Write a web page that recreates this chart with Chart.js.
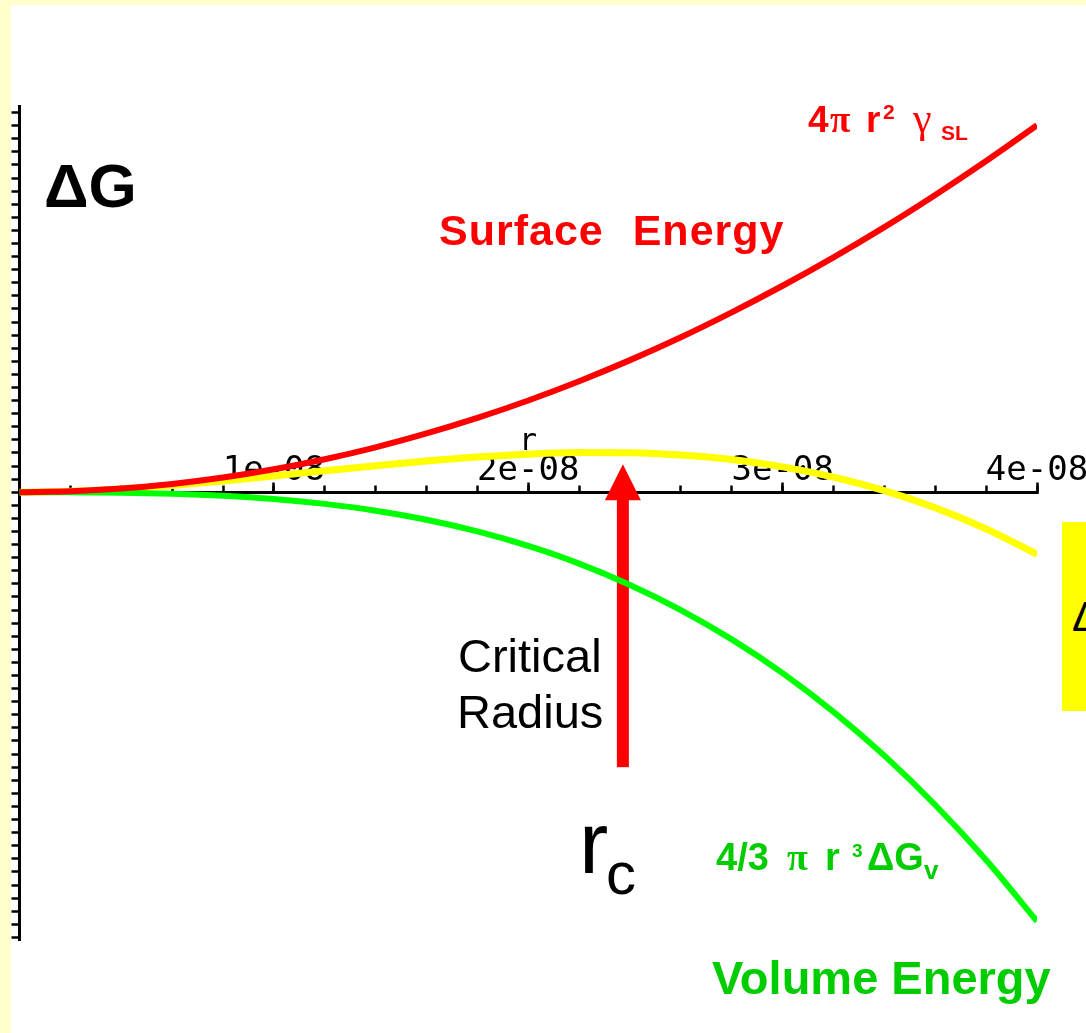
<!DOCTYPE html>
<html><head><meta charset="utf-8">
<script src="https://cdn.jsdelivr.net/npm/chart.js@4"></script>
<style>
html,body{margin:0;padding:0;}
body{width:1086px;height:1033px;position:relative;overflow:hidden;background:#ffffcc;font-family:"Liberation Sans",Arial,sans-serif;}
#paper{position:absolute;left:11px;top:5px;right:0;bottom:0;background:#fff;}
#c{position:absolute;left:0;top:0;}
.t{position:absolute;white-space:nowrap;line-height:1;}
.b{font-weight:bold;}
.s{font-family:"Liberation Serif","Times New Roman",serif;}
.red{color:#ff0000;}
.grn{color:#00cc00;}
</style></head>
<body>
<div id="paper"></div>
<div style="position:absolute;left:1062px;top:522px;width:40px;height:189px;background:#ffff00;overflow:hidden;">
  <div class="t" style="left:10px;top:72.6px;font-size:43px;color:#000;">ΔG</div>
</div>
<canvas id="c" width="1086" height="1033"></canvas>

<div class="t b" style="left:44px;top:154.5px;font-size:62px;color:#000;">ΔG</div>
<div class="t b red" style="left:439px;top:208.6px;font-size:43px;letter-spacing:1px;word-spacing:16px;">Surface Energy</div>

<div class="t b red" style="left:808px;top:100.7px;font-size:37px;">4</div>
<div class="t b s red" style="left:830px;top:101px;font-size:37px;">π</div>
<div class="t b red" style="left:866px;top:100.7px;font-size:37px;">r</div>
<div class="t b red" style="left:883px;top:101.2px;font-size:21px;">2</div>
<div class="t s red" style="left:913px;top:96.8px;font-size:42px;">γ</div>
<div class="t b red" style="left:941px;top:122.2px;font-size:21px;">SL</div>

<div class="t" style="left:458px;top:632.2px;font-size:47px;color:#000;">Critical</div>
<div class="t" style="left:457px;top:688.2px;font-size:47px;color:#000;">Radius</div>

<div class="t" style="left:579px;top:798.5px;font-size:88px;color:#000;">r</div>
<div class="t" style="left:606px;top:844.2px;font-size:60px;color:#000;">c</div>

<div class="t b grn" style="left:716px;top:837.8px;font-size:38px;">4/3</div>
<div class="t b s grn" style="left:787px;top:838.2px;font-size:38px;">π</div>
<div class="t b grn" style="left:825px;top:837.8px;font-size:38px;">r</div>
<div class="t b grn" style="left:852px;top:840.9px;font-size:19px;">3</div>
<div class="t b grn" style="left:867px;top:837.8px;font-size:38px;">ΔG</div>
<div class="t b grn" style="left:924px;top:857px;font-size:26px;">v</div>

<div class="t b grn" style="left:712px;top:954.2px;font-size:47px;">Volume Energy</div>

<div class="t" style="left:519px;top:424.6px;font-size:30px;font-family:'DejaVu Sans Mono',monospace;color:#000;">r</div>

<script>
// radius r (m)
const radius = [0, 0.2e-8, 0.4e-8, 0.6e-8, 0.8e-8, 1.0e-8, 1.2e-8, 1.4e-8, 1.6e-8, 1.8e-8, 2.0e-8,
                2.2e-8, 2.4e-8, 2.6e-8, 2.8e-8, 3.0e-8, 3.2e-8, 3.4e-8, 3.6e-8, 3.8e-8, 4.0e-8];
// surface energy term 4πr²γSL (arbitrary units)
const surfaceEnergy = [0, 0.7, 2.8, 6.3, 11.2, 17.5, 25.2, 34.3, 44.9, 56.8, 70.1,
                       84.8, 100.9, 118.4, 137.4, 157.7, 179.4, 202.5, 227.1, 253.0, 280.3];
// volume energy term 4/3πr³ΔGv (arbitrary units)
const volumeEnergy = [0, -0.04, -0.3, -1.1, -2.6, -5.1, -8.9, -14.1, -21.0, -29.9, -41.0,
                      -54.5, -70.8, -90.0, -112.4, -138.2, -167.8, -201.2, -238.9, -280.9, -327.7];
// total ΔG
const totalEnergy = [0, 0.66, 2.5, 5.2, 8.6, 12.4, 16.4, 20.3, 23.9, 26.9, 29.1,
                     30.3, 30.1, 28.4, 25.0, 19.4, 11.6, 1.3, -11.8, -28.0, -47.4];
// x-axis tick labels
const xTickValues = [1e-8, 2e-8, 3e-8, 4e-8];
const xTickLabels = ['1e-08', '2e-08', '3e-08', '4e-08'];
// critical radius arrow (r, tip, head base, tail in y units)
const criticalRadius = 2.372e-8;
const arrowTip = 21.4, arrowHeadBase = -6.1, arrowTail = -210;

const pts = arr => radius.map((r, i) => ({x: r, y: arr[i]}));

const arrowPlugin = {
  id: 'rcArrow',
  beforeDatasetsDraw(chart) {
    const {ctx, scales: {x, y}} = chart;
    const px = x.getPixelForValue(criticalRadius);
    const yTip = y.getPixelForValue(arrowTip);
    const yBase = y.getPixelForValue(arrowHeadBase);
    const yTail = y.getPixelForValue(arrowTail);
    ctx.save();
    ctx.fillStyle = '#ff0000';
    ctx.fillRect(px - 6, yBase - 1, 12, yTail - yBase + 1);
    ctx.beginPath();
    ctx.moveTo(px, yTip);
    ctx.lineTo(px + 18, yBase);
    ctx.lineTo(px - 18, yBase);
    ctx.closePath();
    ctx.fill();
    ctx.restore();
  }
};

const zeroPad = s => { s.paddingLeft = 0; s.paddingRight = 0; s.paddingTop = 0; s.paddingBottom = 0; };

new Chart(document.getElementById('c'), {
  type: 'line',
  data: {
    datasets: [
      {label: 'Surface Energy', data: pts(surfaceEnergy), borderColor: '#ff0000', borderWidth: 6},
      {label: 'Volume Energy', data: pts(volumeEnergy), borderColor: '#00ff00', borderWidth: 6},
      {label: 'ΔG', data: pts(totalEnergy), borderColor: '#ffff00', borderWidth: 7}
    ]
  },
  options: {
    responsive: false,
    animation: false,
    layout: {padding: {left: 11.5, right: 49, top: 106, bottom: 93}},
    plugins: {legend: {display: false}, tooltip: {enabled: false}},
    elements: {point: {radius: 0}, line: {cubicInterpolationMode: 'monotone', borderCapStyle: 'butt'}},
    scales: {
      x: {
        type: 'linear', position: {y: 0}, min: 0, max: 4e-8,
        afterBuildTicks: s => { s.ticks = xTickValues.map(v => ({value: v})); },
        afterFit: zeroPad,
        ticks: {
          callback: (v, i) => xTickLabels[i],
          font: {family: 'DejaVu Sans Mono', size: 34},
          color: '#000', padding: -30, maxRotation: 0, minRotation: 0, autoSkip: false
        },
        grid: {drawOnChartArea: false, tickLength: -11.5, tickWidth: 2.5, tickColor: '#000'},
        border: {display: true, color: '#000', width: 3}
      },
      xMinor: {
        type: 'linear', axis: 'x', position: {y: 0}, min: 0, max: 4e-8,
        afterFit: zeroPad,
        ticks: {stepSize: 2e-9, display: false},
        grid: {drawOnChartArea: false, tickLength: -6.5, tickWidth: 2.5, tickColor: '#000'},
        border: {display: false}
      },
      y: {
        type: 'linear', position: 'left', min: -342, max: 295,
        afterFit: zeroPad,
        ticks: {stepSize: 10, display: false, includeBounds: false},
        grid: {drawOnChartArea: false, tickLength: 8, tickWidth: 2.5, tickColor: '#000'},
        border: {display: true, color: '#000', width: 3}
      }
    }
  },
  plugins: [arrowPlugin]
});
</script>
</body></html>
